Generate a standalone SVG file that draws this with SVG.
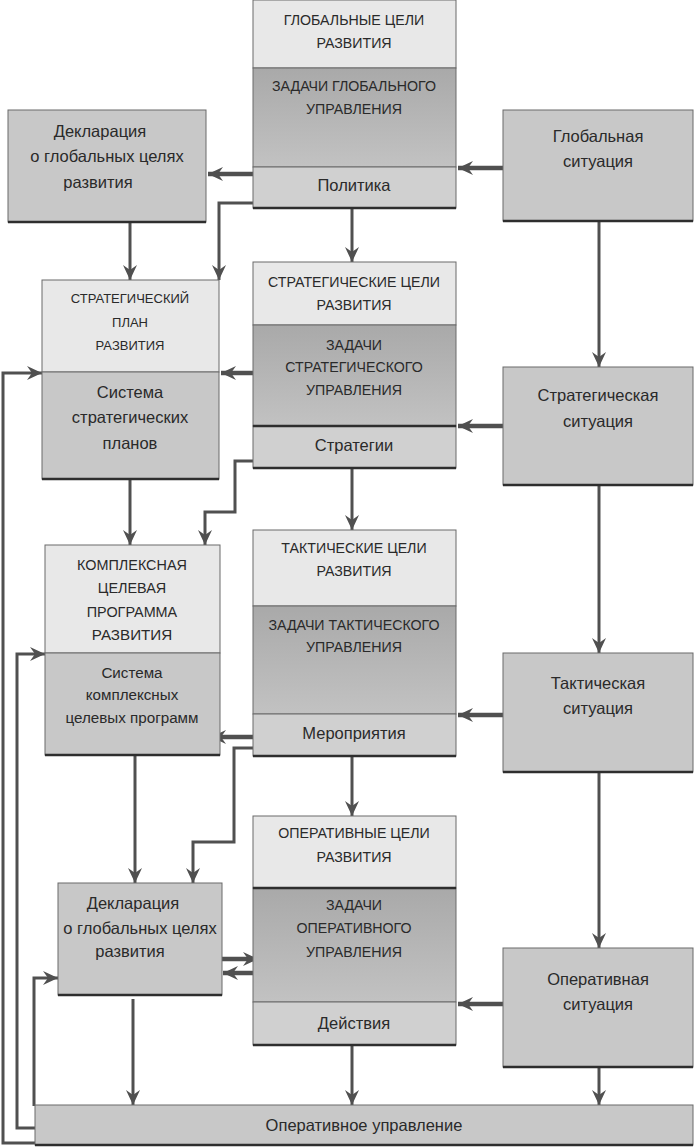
<svg xmlns="http://www.w3.org/2000/svg" width="694" height="1148" viewBox="0 0 694 1148">
<style>
text{font-family:"Liberation Sans",Arial,sans-serif;font-size:16.5px;fill:#2a2a2a;text-anchor:middle}
.cap{font-size:14.2px}
.sm{font-size:13px}
.cx{font-size:14.4px}
.cs{font-size:15.2px}
.lt{fill:#e8e8e8;stroke:#6a6a6a;stroke-width:1}
.dk{fill:url(#g);stroke:#6a6a6a;stroke-width:1}
.md{fill:#d0d0d0;stroke:#6a6a6a;stroke-width:1}
.bx{fill:#c8c8c8;stroke:#6a6a6a;stroke-width:1}
.sh{stroke:#2e2e2e;stroke-width:2.5;fill:none}
.c{fill:none;stroke:#505050;stroke-width:3}
.t{fill:none;stroke:#505050;stroke-width:4.5}
</style>
<defs>
<linearGradient id="g" x1="0" y1="0" x2="0" y2="1">
<stop offset="0" stop-color="#a9a9a9"/>
<stop offset="1" stop-color="#c2c2c2"/>
</linearGradient>
<marker id="a" markerUnits="userSpaceOnUse" markerWidth="16" markerHeight="16" refX="15" refY="7" orient="auto" viewBox="0 0 16 14">
<path d="M0,0 L15,7 L0,14 L5,7 z" fill="#505050"/>
</marker>
</defs>

<g id="connectors">
<path class="t" d="M503,168 H458" marker-end="url(#a)"/>
<path class="t" d="M253,174 H208" marker-end="url(#a)"/>
<path class="c" d="M253,203 H219 V280" marker-end="url(#a)"/>
<path class="c" d="M130,222 V280" marker-end="url(#a)"/>
<path class="c" d="M352,208 V262" marker-end="url(#a)"/>
<path class="c" d="M599,221 V367" marker-end="url(#a)"/>
<path class="t" d="M253,373 H221" marker-end="url(#a)"/>
<path class="t" d="M503,426 H458" marker-end="url(#a)"/>
<path class="c" d="M253,461 H235 V512 H205 V545" marker-end="url(#a)"/>
<path class="c" d="M130,479 V545" marker-end="url(#a)"/>
<path class="c" d="M352,468 V530" marker-end="url(#a)"/>
<path class="c" d="M599,485 V653" marker-end="url(#a)"/>
<path class="c" d="M36,1143 H3 V373 H42" marker-end="url(#a)"/>
<path class="t" d="M503,715 H458" marker-end="url(#a)"/>
<path class="t" d="M253,737 H211" marker-end="url(#a)"/>
<path class="c" d="M253,748 H234 V842 H193 V883" marker-end="url(#a)"/>
<path class="c" d="M135,755 V883" marker-end="url(#a)"/>
<path class="c" d="M352,756 V816" marker-end="url(#a)"/>
<path class="c" d="M599,772 V948" marker-end="url(#a)"/>
<path class="c" d="M36,1128 H17 V654 H45" marker-end="url(#a)"/>
<path class="t" d="M222,959 H258" marker-end="url(#a)"/>
<path class="t" d="M256,973 H223" marker-end="url(#a)"/>
<path class="c" d="M34,1106 V978 H58" marker-end="url(#a)"/>
<path class="t" d="M503,1004 H458" marker-end="url(#a)"/>
<path class="c" d="M133,999 V1105" marker-end="url(#a)"/>
<path class="c" d="M352,1045 V1105" marker-end="url(#a)"/>
<path class="c" d="M599,1067 V1105" marker-end="url(#a)"/>
</g>

<g id="global">
<rect class="lt" x="253" y="0" width="203" height="68"/>
<rect class="dk" x="253" y="68" width="203" height="99"/>
<rect class="md" x="253" y="167" width="203" height="41"/>
<path class="sh" d="M253,208 H456"/>
<text x="354" y="25" class="cap">ГЛОБАЛЬНЫЕ ЦЕЛИ</text>
<text x="354" y="48" class="cap">РАЗВИТИЯ</text>
<text x="354" y="91" class="cap">ЗАДАЧИ ГЛОБАЛЬНОГО</text>
<text x="354" y="114" class="cap">УПРАВЛЕНИЯ</text>
<text x="354" y="191">Политика</text>
</g>

<g id="declaration1">
<rect class="bx" x="8" y="110" width="198" height="112"/>
<path class="sh" d="M8,222 H206"/>
<text x="100" y="137">Декларация</text>
<text x="107" y="162">о глобальных целях</text>
<text x="98" y="188">развития</text>
</g>

<g id="global-situation">
<rect class="bx" x="503" y="110" width="190" height="111"/>
<path class="sh" d="M503,221 H693"/>
<text x="598" y="142">Глобальная</text>
<text x="598" y="167">ситуация</text>
</g>

<g id="strategic">
<rect class="lt" x="253" y="262" width="203" height="63"/>
<rect class="dk" x="253" y="325" width="203" height="101"/>
<rect class="md" x="253" y="426" width="203" height="42"/>
<path class="sh" d="M253,426 H456 M253,468 H456"/>
<text x="354" y="287" class="cap">СТРАТЕГИЧЕСКИЕ ЦЕЛИ</text>
<text x="354" y="310" class="cap">РАЗВИТИЯ</text>
<text x="354" y="350" class="cap">ЗАДАЧИ</text>
<text x="354" y="372" class="cap">СТРАТЕГИЧЕСКОГО</text>
<text x="354" y="395" class="cap">УПРАВЛЕНИЯ</text>
<text x="354" y="451">Стратегии</text>
</g>

<g id="strategic-plan">
<rect class="lt" x="42" y="280" width="177" height="92"/>
<rect class="bx" x="42" y="372" width="177" height="107"/>
<path class="sh" d="M42,479 H219"/>
<text x="130" y="303" class="sm">СТРАТЕГИЧЕСКИЙ</text>
<text x="130" y="327" class="sm">ПЛАН</text>
<text x="130" y="350" class="sm">РАЗВИТИЯ</text>
<text x="130" y="398">Система</text>
<text x="130" y="423">стратегических</text>
<text x="130" y="449">планов</text>
</g>

<g id="strategic-situation">
<rect class="bx" x="503" y="367" width="190" height="118"/>
<path class="sh" d="M503,485 H693"/>
<text x="598" y="401">Стратегическая</text>
<text x="598" y="427">ситуация</text>
</g>

<g id="complex">
<rect class="lt" x="45" y="545" width="175" height="108"/>
<rect class="bx" x="45" y="653" width="175" height="102"/>
<path class="sh" d="M45,755 H220"/>
<text x="132" y="570" class="cx">КОМПЛЕКСНАЯ</text>
<text x="132" y="593" class="cx">ЦЕЛЕВАЯ</text>
<text x="132" y="617" class="cx">ПРОГРАММА</text>
<text x="132" y="640" class="cs">РАЗВИТИЯ</text>
<text x="132" y="678" class="cs">Система</text>
<text x="132" y="700" class="cs">комплексных</text>
<text x="132" y="723" class="cs">целевых программ</text>
</g>

<g id="tactical">
<rect class="lt" x="253" y="530" width="203" height="76"/>
<rect class="dk" x="253" y="606" width="203" height="108"/>
<rect class="md" x="253" y="714" width="203" height="42"/>
<path class="sh" d="M253,756 H456"/>
<text x="354" y="553" class="cap">ТАКТИЧЕСКИЕ ЦЕЛИ</text>
<text x="354" y="576" class="cap">РАЗВИТИЯ</text>
<text x="354" y="630" class="cap">ЗАДАЧИ ТАКТИЧЕСКОГО</text>
<text x="354" y="652" class="cap">УПРАВЛЕНИЯ</text>
<text x="354" y="739">Мероприятия</text>
</g>

<g id="tactical-situation">
<rect class="bx" x="503" y="653" width="190" height="119"/>
<path class="sh" d="M503,772 H693"/>
<text x="598" y="689">Тактическая</text>
<text x="598" y="714">ситуация</text>
</g>

<g id="operative">
<rect class="lt" x="253" y="816" width="203" height="72"/>
<rect class="dk" x="253" y="888" width="203" height="114"/>
<rect class="md" x="253" y="1002" width="203" height="43"/>
<path class="sh" d="M253,888 H456 M253,1045 H456"/>
<text x="354" y="838" class="cap">ОПЕРАТИВНЫЕ ЦЕЛИ</text>
<text x="354" y="862" class="cap">РАЗВИТИЯ</text>
<text x="354" y="910" class="cap">ЗАДАЧИ</text>
<text x="354" y="933" class="cap">ОПЕРАТИВНОГО</text>
<text x="354" y="957" class="cap">УПРАВЛЕНИЯ</text>
<text x="354" y="1029">Действия</text>
</g>

<g id="declaration2">
<rect class="bx" x="58" y="883" width="164" height="112"/>
<path class="sh" d="M58,995 H222"/>
<text x="133" y="909">Декларация</text>
<text x="140" y="934">о глобальных целях</text>
<text x="130" y="957">развития</text>
</g>

<g id="operative-situation">
<rect class="bx" x="503" y="948" width="190" height="119"/>
<path class="sh" d="M503,1067 H693"/>
<text x="598" y="985">Оперативная</text>
<text x="598" y="1010">ситуация</text>
</g>

<g id="operative-management">
<rect class="bx" x="35" y="1105" width="658" height="40"/>
<path class="sh" d="M35,1145 H693"/>
<text x="364" y="1131">Оперативное управление</text>
</g>
</svg>
